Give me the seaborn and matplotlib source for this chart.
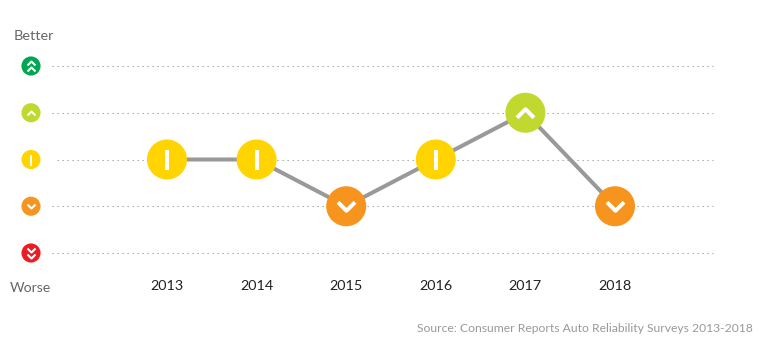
import numpy as np
import matplotlib
matplotlib.use('Agg')
import matplotlib.pyplot as plt
from matplotlib.path import Path
import pandas as pd
import seaborn as sns

# Datos
years = [2013, 2014, 2015, 2016, 2017, 2018]
ratings = [0, 0, -1, 0, 1, -1]
scale_levels = [2, 1, 0, -1, -2]
scale_colors = ['#00a651', '#c1d82f', '#ffd400', '#f7941e', '#ed1c24']
grid_starts = [52, 52, 57, 52, 52]

W, H = 770, 352
sns.set_theme(style='white')
plt.rcParams['font.family'] = ['Lato', 'DejaVu Sans']

df = pd.DataFrame({'year': years, 'rating': ratings})
palette = dict(zip(scale_levels, scale_colors))

fig = plt.figure(figsize=(W / 100, H / 100), dpi=100)
# ejes en toda la anchura, entre los pixeles 40 y 270 de alto
ax = fig.add_axes([0, 1 - 270 / H, 1, 230 / H])
x_step = 89.6
y_step = 46.75

# simbolos
up = Path([(-1, -0.5), (0, 0.5), (1, -0.5)])
down = Path([(-1, 0.5), (0, -0.5), (1, 0.5)])
bar = Path([(0, -1), (0, 1)])


def draw_glyph(x, y, level, big, trans):
    # flechas blancas dentro de cada circulo
    if big:
        w, lw, off = 17, 2.9, 0
    else:
        w, lw, off = 8, 1.5, 3.2
    kw = dict(color='white', ls='none', fillstyle='none', mew=lw, zorder=6,
              clip_on=False, transform=trans)
    px = 0.72
    if level == 0:
        ax.plot([x], [y], marker=bar, ms=(20 if big else 11) * px, **kw)
    elif abs(level) == 1:
        ax.plot([x], [y], marker=up if level > 0 else down, ms=w * px, **kw)
    else:
        m = up if level > 0 else down
        for d in (-off, off):
            ax.plot([x], [y + d / y_step], marker=m, ms=w * px, **kw)


# lineas punteadas
for lev, start in zip(scale_levels, grid_starts):
    ax.hlines(lev, start / W, 713 / W, transform=ax.get_yaxis_transform(),
              color='#9a9a9a', lw=0.75, linestyles=(0, (1.2, 3.6)), zorder=1)

sns.lineplot(data=df, x='year', y='rating', color='#999999', lw=2.9, ax=ax, zorder=2,
             errorbar=None)
sns.scatterplot(data=df, x='year', y='rating', hue='rating', palette=palette, s=830,
                linewidth=0, legend=False, ax=ax, zorder=3, clip_on=False)
for yr, r in zip(years, ratings):
    draw_glyph(yr, r, r, True, ax.transData)

# escala de la izquierda
scale_df = pd.DataFrame({'x': [31 / W] * 5, 'level': scale_levels})
sns.scatterplot(data=scale_df, x='x', y='level', hue='level', palette=palette, s=190,
                linewidth=0, legend=False, ax=ax, zorder=3, clip_on=False,
                transform=ax.get_yaxis_transform())
for lev in scale_levels:
    draw_glyph(31 / W, lev, lev, False, ax.get_yaxis_transform())

x0 = years[0] - 167 / x_step
ax.set_xlim(x0, x0 + W / x_step)
ax.set_ylim(-2 - 17 / y_step, 2 + 26 / y_step)
ax.set_xticks(years)
ax.set_xticklabels(years, fontsize=10.4, color='#222222')
ax.set_yticks([])
ax.set_xlabel('')
ax.set_ylabel('')
ax.tick_params(axis='x', length=0, pad=7.5)
sns.despine(ax=ax, left=True, bottom=True)
ax.patch.set_alpha(0)

fig.text(14 / W, 1 - 35.5 / H, 'Better', fontsize=10.4, color='#666666', va='center', ha='left')
fig.text(10 / W, 1 - 287.5 / H, 'Worse', fontsize=10.2, color='#666666', va='center', ha='left')
fig.text(753 / W, 1 - 328 / H, 'Source: Consumer Reports Auto Reliability Surveys 2013-2018',
         fontsize=8.75, color='#999999', va='center', ha='right')

plt.savefig('out.png', dpi=100)
